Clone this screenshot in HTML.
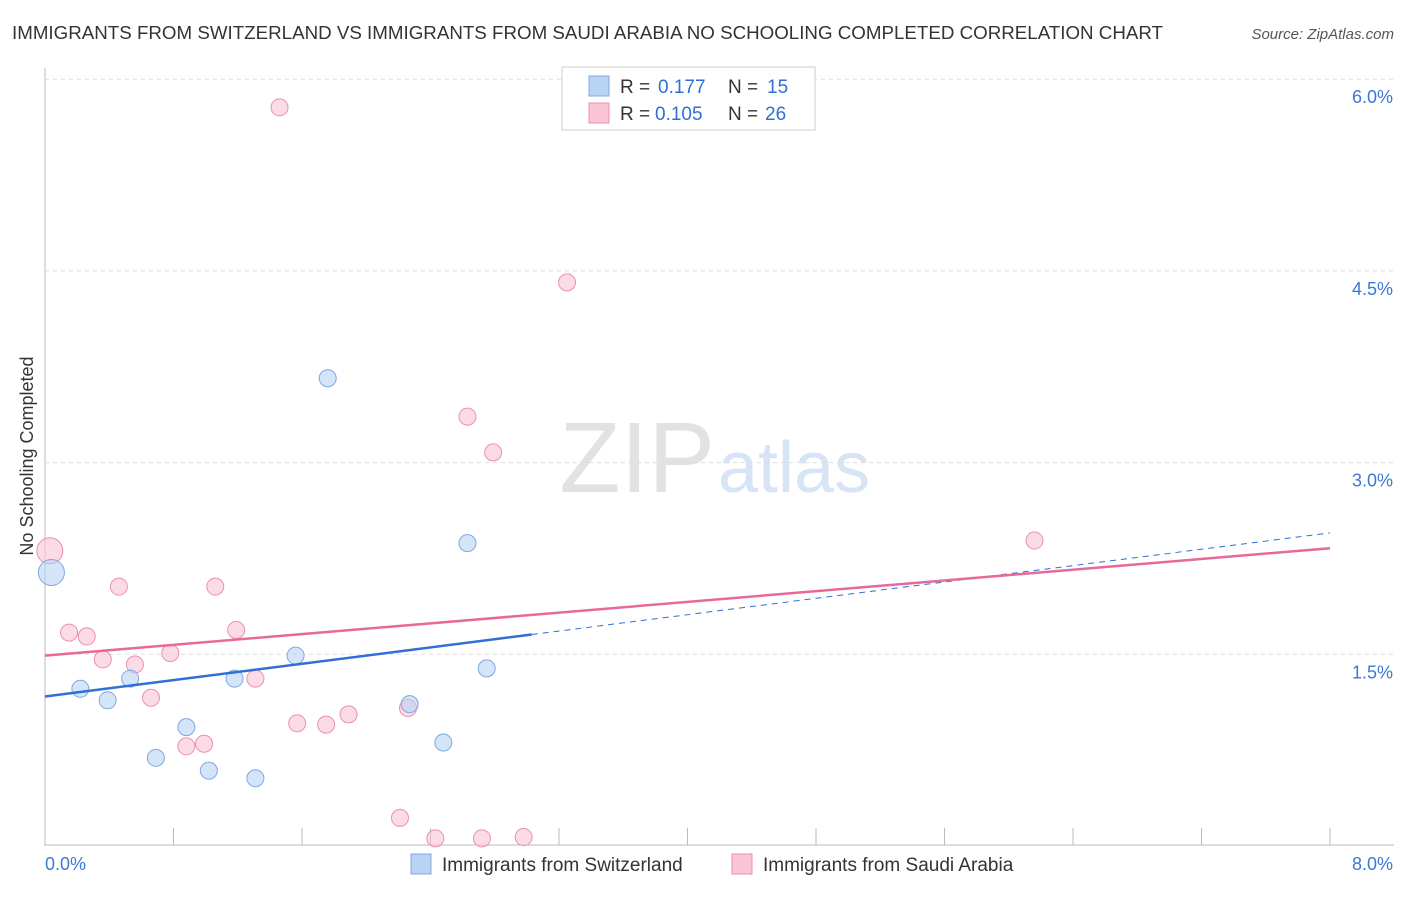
<!DOCTYPE html>
<html><head><meta charset="utf-8"><style>
body{margin:0;background:#fff;font-family:"Liberation Sans",sans-serif;}
svg text{font-family:"Liberation Sans",sans-serif;}
</style></head><body>
<svg id="chart" width="1406" height="892">
<text x="12" y="39" font-size="18" fill="#333" textLength="1151" lengthAdjust="spacingAndGlyphs">IMMIGRANTS FROM SWITZERLAND VS IMMIGRANTS FROM SAUDI ARABIA NO SCHOOLING COMPLETED CORRELATION CHART</text>
<text x="1394" y="39" font-size="15" fill="#555" font-style="italic" text-anchor="end">Source: ZipAtlas.com</text>
<text x="33" y="456" font-size="18" fill="#333" text-anchor="middle" transform="rotate(-90 33 456)">No Schooling Completed</text>
<text x="715" y="492" font-size="100" fill="#e2e2e2" text-anchor="end" font-family="Liberation Serif">ZIP</text>
<text x="718" y="492" font-size="72" fill="#d6e4f5">atlas</text>
<g id="grid"></g><g id="marks"></g>
<g>
<rect x="562" y="67" width="253" height="63" fill="#fff" stroke="#ccc"/>
<rect x="589" y="76" width="20" height="20" fill="#b9d3f5" stroke="#7fa8df"/>
<rect x="589" y="103" width="20" height="20" fill="#f9c5d5" stroke="#ec8fad"/>
<text x="620" y="93" font-size="19" fill="#333">R =</text>
<text x="658" y="93" font-size="19" fill="#2f6fd6">0.177</text>
<text x="728" y="93" font-size="19" fill="#333">N =</text>
<text x="767" y="93" font-size="19" fill="#2f6fd6">15</text>
<text x="620" y="120" font-size="19" fill="#333">R =</text>
<text x="655" y="120" font-size="19" fill="#2f6fd6">0.105</text>
<text x="728" y="120" font-size="19" fill="#333">N =</text>
<text x="765" y="120" font-size="19" fill="#2f6fd6">26</text>
</g>
<g>
<rect x="411" y="854" width="20" height="20" fill="#b9d3f5" stroke="#7fa8df"/>
<text x="442" y="871" font-size="19" fill="#333">Immigrants from Switzerland</text>
<rect x="732" y="854" width="20" height="20" fill="#f9c5d5" stroke="#ec8fad"/>
<text x="763" y="871" font-size="19" fill="#333">Immigrants from Saudi Arabia</text>
</g>
</svg>
<script>
const yTicks=[1.5,3.0,4.5,6.0];
const yTickLabels=["1.5%","3.0%","4.5%","6.0%"];
const xEndLabels=["0.0%","8.0%"];
const swissX=[0.04,0.22,0.39,0.53,0.69,0.88,1.02,1.18,1.31,1.56,1.76,2.27,2.48,2.63,2.75];
const swissY=[2.14,1.23,1.14,1.31,0.69,0.93,0.59,1.31,0.53,1.49,3.66,1.11,0.81,2.37,1.39];
const saudiX=[0.03,0.15,0.26,0.36,0.46,0.56,0.66,0.78,0.88,0.99,1.06,1.19,1.31,1.46,1.57,1.75,1.89,2.21,2.26,2.43,2.63,2.72,2.79,2.98,3.25,6.16];
const saudiY=[2.31,1.67,1.64,1.46,2.03,1.42,1.16,1.51,0.78,0.80,2.03,1.69,1.31,5.78,0.96,0.95,1.03,0.22,1.08,0.06,3.36,0.06,3.08,0.07,4.41,2.39];
const swissTrend=[1.17,2.45];
const saudiTrend=[1.49,2.33];
const X=v=>45+v/8*1285, Y=v=>846-v*127.8;
const NS="http://www.w3.org/2000/svg";
const grid=document.getElementById('grid'), marks=document.getElementById('marks');
function mk(p,tag,a){const e=document.createElementNS(NS,tag);for(const k in a)e.setAttribute(k,a[k]);p.appendChild(e);return e;}
let ax=mk(grid,'line',{x1:45,y1:68,x2:45,y2:846,stroke:'#bbb'});


let bx=mk(grid,'line',{x1:45,y1:845,x2:1394,y2:845,stroke:'#bbb'});


yTicks.forEach((t,i)=>{
 const g=mk(grid,'line',{x1:45,x2:1394,y1:Y(t),y2:Y(t),stroke:'#ddd','stroke-dasharray':'4,4'});
 
 
 const l=mk(grid,'text',{x:1393,y:Y(t)+24,'font-size':18,fill:'#3b78d8','text-anchor':'end'});l.textContent=yTickLabels[i];
 
 
});
for(let i=0;i<=10;i++){const tk=mk(grid,'line',{x1:X(i*0.8),x2:X(i*0.8),y1:828,y2:845,stroke:'#bbb'});
 
 }
[[45,'start'],[1393,'end']].forEach((p,i)=>{const l=mk(grid,'text',{x:p[0],y:870,'font-size':18,fill:'#3b78d8','text-anchor':p[1]});l.textContent=xEndLabels[i];
 
 });
function pts(xs,ys,fill,stroke,name){xs.forEach((x,i)=>{const r=i===0?13:8.5;const c=mk(marks,'circle',{cx:X(x),cy:Y(ys[i]),r:r,fill:fill,stroke:stroke,'fill-opacity':0.6});
 
 });}
pts(saudiX,saudiY,'#f9c5d5','#ec8fad','saudi-point');
pts(swissX,swissY,'#b9d3f5','#7fa8df','swiss-point');
let sl=mk(marks,'line',{x1:X(0),y1:Y(swissTrend[0]),x2:X(3.03),y2:Y(swissTrend[0]+(swissTrend[1]-swissTrend[0])*3.03/8),stroke:'#2f6fd6','stroke-width':2.5});


let sd=mk(marks,'line',{x1:X(3.03),y1:Y(swissTrend[0]+(swissTrend[1]-swissTrend[0])*3.03/8),x2:X(8),y2:Y(swissTrend[1]),stroke:'#2f6fd6','stroke-width':1,'stroke-dasharray':'6,5'});


let pl=mk(marks,'line',{x1:X(0),y1:Y(saudiTrend[0]),x2:X(8),y2:Y(saudiTrend[1]),stroke:'#e8689a','stroke-width':2.5});


</script>
</body></html>
